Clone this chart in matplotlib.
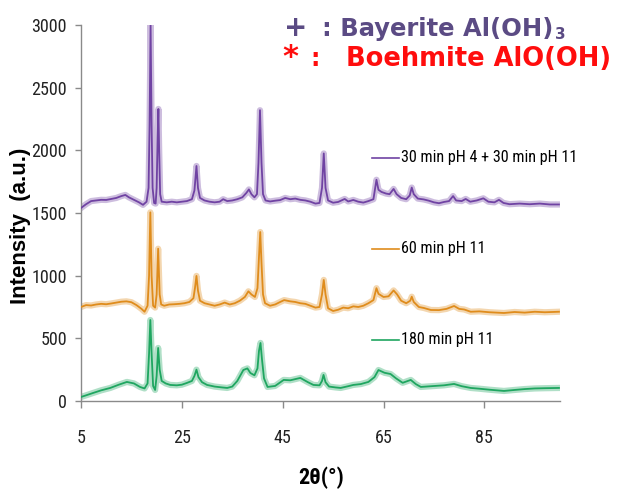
import os
import matplotlib
matplotlib.use("Agg")
import matplotlib.pyplot as plt
from matplotlib import font_manager as fm

# XRD patterns: (2-theta, intensity) pairs per sample
two_theta_a = [5.0, 6.0, 7.0, 8.0, 9.0, 10.0, 11.0, 12.0, 13.0, 13.8, 14.5, 15.5, 16.5, 17.3,
               18.0, 18.4, 18.6, 18.8, 19.0, 19.2, 19.5, 19.8, 20.0, 20.2, 20.35, 20.5, 20.7,
               21.0, 22.0, 23.0, 24.0, 25.0, 26.0, 27.0, 27.5, 27.9, 28.2, 28.6, 29.5, 30.5,
               31.5, 32.5, 33.2, 34.0, 35.0, 36.0, 37.0, 37.8, 38.3, 38.8, 39.4, 39.9, 40.2,
               40.5, 40.8, 41.1, 41.6, 42.5, 43.5, 44.5, 45.5, 46.5, 47.5, 48.5, 49.5, 50.5,
               51.5, 52.3, 52.8, 53.15, 53.5, 54.0, 55.0, 56.0, 57.3, 58.0, 59.0, 60.0, 61.0,
               62.0, 63.0, 63.6, 64.0, 64.6, 65.5, 66.2, 67.0, 67.6, 68.5, 69.5, 70.2, 70.6,
               71.0, 71.8, 73.0, 74.0, 75.0, 76.0, 77.0, 78.0, 78.8, 79.4, 80.5, 81.3, 82.2,
               83.5, 84.8, 85.8, 87.0, 87.9, 88.8, 90.0, 92.0, 94.0, 96.0, 98.0, 99.8]
intensity_a = [1540, 1570, 1595, 1600, 1605, 1604, 1612, 1620, 1635, 1644, 1625, 1605, 1585, 1565,
               1590, 1700, 2200, 3000, 2200, 1700, 1580, 1575, 1700, 2100, 2330, 2000, 1650,
               1590, 1585, 1590, 1585, 1590, 1595, 1610, 1680, 1875, 1700, 1620, 1600, 1590,
               1585, 1590, 1610, 1595, 1600, 1610, 1625, 1660, 1688, 1650, 1625, 1650, 1900,
               2320, 1900, 1650, 1600, 1592, 1598, 1603, 1620, 1610, 1615, 1605, 1600, 1590,
               1575, 1580, 1700, 1975, 1700, 1600, 1582, 1588, 1612, 1592, 1604, 1590, 1583,
               1595, 1610, 1765, 1685, 1668, 1655, 1650, 1692, 1650, 1620, 1610, 1640, 1703,
               1650, 1615, 1608, 1598, 1585, 1578, 1588, 1595, 1635, 1600, 1595, 1612, 1590,
               1600, 1617, 1590, 1585, 1605, 1580, 1570, 1575, 1570, 1575, 1568, 1568]

two_theta_b = [5.0, 6.0, 7.0, 8.0, 9.0, 10.0, 11.0, 12.0, 13.0, 14.0, 15.0, 16.0, 17.0, 17.6,
               18.2, 18.5, 18.75, 19.0, 19.3, 19.7, 20.0, 20.3, 20.6, 20.9, 21.5, 22.5, 23.5,
               24.5, 25.5, 26.5, 27.3, 27.6, 27.9, 28.2, 28.6, 29.5, 30.5, 31.5, 32.5, 33.5,
               34.5, 35.5, 36.5, 37.5, 38.2, 38.8, 39.5, 40.0, 40.3, 40.55, 40.8, 41.1, 41.5,
               42.5, 43.5, 44.5, 45.3, 46.5, 47.5, 48.5, 49.5, 50.5, 51.5, 52.3, 52.8, 53.15,
               53.5, 54.0, 55.0, 56.0, 57.0, 58.0, 59.0, 60.0, 61.0, 62.0, 63.0, 63.6, 64.0,
               65.0, 66.0, 67.0, 67.7, 68.5, 69.5, 70.3, 70.6, 71.0, 72.0, 73.0, 74.4, 76.0,
               77.5, 79.0, 80.0, 81.0, 82.3, 84.0, 86.0, 88.9, 91.0, 93.0, 95.0, 97.0, 99.8]
intensity_b = [750, 765, 762, 770, 775, 772, 778, 785, 792, 795, 788, 765, 735, 712,
               760, 1000, 1505, 1000, 760, 745, 850, 1215, 850, 770, 760, 770, 772,
               775, 780, 790, 820, 900, 998, 880, 800, 780, 770, 760, 770, 785,
               770, 780, 800, 830, 875, 850, 830, 900, 1150, 1348, 1100, 850, 780,
               760, 770, 790, 805, 795, 790, 780, 775, 760, 745, 750, 850, 966,
               850, 740, 718, 728, 745, 740, 755, 750, 760, 780, 805, 900, 855,
               830, 835, 882, 850, 800, 780, 800, 832, 790, 750, 742, 726, 725,
               735, 758, 735, 730, 712, 715, 708, 702, 710, 705, 712, 708, 712]

two_theta_c = [5.0, 6.0, 7.4, 9.0, 10.8, 12.5, 14.1, 15.5, 16.7, 17.6, 18.2, 18.5, 18.75,
               19.0, 19.3, 19.7, 20.0, 20.3, 20.6, 21.0, 21.8, 22.7, 24.0, 25.0, 26.0, 27.0,
               27.5, 27.9, 28.3, 29.0, 30.0, 31.5, 33.0, 34.0, 35.0, 36.0, 37.2, 38.0, 38.6,
               39.4, 40.0, 40.3, 40.6, 40.9, 41.3, 42.0, 43.5, 45.2, 46.5, 48.5, 50.0, 51.1,
               52.3, 52.8, 53.1, 53.5, 54.2, 55.5, 56.5, 58.0, 59.0, 60.5, 62.0, 63.2, 64.0,
               65.2, 66.4, 67.5, 68.8, 70.4, 71.4, 72.4, 74.5, 77.0, 79.0, 80.5, 82.3, 84.0,
               86.0, 88.9, 91.0, 93.0, 95.0, 97.0, 99.8]
intensity_c = [32, 45, 64, 85, 104, 130, 152, 140, 112, 100, 140, 380, 646,
               380, 120, 88, 200, 423, 250, 160, 140, 128, 125, 130, 144, 160,
               200, 250, 190, 150, 128, 115, 108, 104, 115, 160, 247, 260, 223,
               205, 260, 400, 463, 330, 180, 112, 120, 168, 165, 184, 150, 128,
               125, 160, 208, 150, 115, 108, 104, 118, 128, 135, 152, 190, 247,
               225, 215, 180, 145, 168, 135, 112, 118, 125, 136, 118, 104, 98,
               90, 80, 88, 95, 100, 102, 104]

series_labels = ["30 min pH 4 + 30 min pH 11", "60 min pH 11", "180 min pH 11"]
series_colors = ["#7043a3", "#df8c1c", "#1fa660"]
legend_y = [1940, 1215, 490]

x_ticks = [5, 25, 45, 65, 85]
y_ticks = [0, 500, 1000, 1500, 2000, 2500, 3000]


def narrow_font(size, bold=False):
    """Return a condensed sans face if one is installed, else a scaled-down regular one."""
    prefs = ["liberationsansnarrow", "arialnarrow", "robotocondensed",
             "notosans-condensed", "notosanscondensed", "dejavusanscondensed",
             "opensans-condensed", "opensanscondensed"]
    cands = []
    for f in fm.fontManager.ttflist:
        base = os.path.basename(f.fname).lower().replace("_", "")
        if "italic" in base or "oblique" in base:
            continue
        is_bold = f.weight in ("bold", 700, "heavy", 800) or "bold" in base
        if "semi" in base or "extra" in base or "light" in base or "medium" in base \
                or "black" in base or "thin" in base:
            continue
        if is_bold != bold:
            continue
        for rank, key in enumerate(prefs):
            if base.startswith(key):
                cands.append((rank, f.fname))
    if cands:
        cands.sort()
        return fm.FontProperties(fname=cands[0][1], size=size)
    return fm.FontProperties(family="Liberation Sans", size=size * 0.84,
                             weight="bold" if bold else "normal")


fig = plt.figure(figsize=(6.27, 4.94), dpi=100)
ax = fig.add_axes([0.1292, 0.1883, 0.7639, 0.7611])

for xs, ys, col in zip([two_theta_a, two_theta_b, two_theta_c],
                       [intensity_a, intensity_b, intensity_c], series_colors):
    ax.plot(xs, ys, color=col, lw=4.5, alpha=0.35, solid_joinstyle="round", zorder=2)
    ax.plot(xs, ys, color=col, lw=1.3, zorder=3)

# per-series keys placed next to each pattern
for lab, col, ly in zip(series_labels, series_colors, legend_y):
    ax.plot([62.7, 68.0], [ly, ly], color=col, lw=1.2, zorder=4)
    ax.text(68.4, ly, lab, fontproperties=narrow_font(11.6), color="black",
            va="center", ha="left", zorder=4)

ax.set_xlim(5, 100)
ax.set_ylim(0, 3000)
ax.set_xticks(x_ticks)
ax.set_yticks(y_ticks)
for sp in ["top", "right"]:
    ax.spines[sp].set_visible(False)
for sp in ["left", "bottom"]:
    ax.spines[sp].set_color("#8a8a8a")
    ax.spines[sp].set_linewidth(1.0)
ax.tick_params(axis="x", direction="out", length=5, width=1, color="#8a8a8a",
               pad=15, labelcolor="#222222")
ax.tick_params(axis="y", direction="out", length=4, width=1, color="#8a8a8a",
               pad=6, labelcolor="#222222")
for lbl in ax.get_xticklabels() + ax.get_yticklabels():
    lbl.set_fontproperties(narrow_font(13))

fig.text(21 / 627, 1 - 226 / 494, "Intensity  (a.u.)", rotation=90, fontsize=16,
         fontweight="bold", family=["Liberation Sans", "DejaVu Sans"],
         ha="center", va="center")
fig.text(321 / 627, 1 - 478 / 494, "2θ(°)", fontproperties=narrow_font(16, bold=True),
         ha="center", va="center")

purple_txt = "#5b4b84"
red_txt = "#ff0d0d"
head_font = ["DejaVu Sans"]
fig.text(296 / 627, 1 - 28 / 494, "+", fontsize=20, fontweight="bold",
         family=head_font, color=purple_txt, ha="center", va="center")
t_bay = fig.text(322 / 627, 1 - 29 / 494, ": Bayerite Al(OH)", fontsize=17.5, fontweight="bold",
                 family=head_font, color=purple_txt, ha="left", va="center")
sub3 = matplotlib.text.Annotation(
    "3", xy=(1, 0), xycoords=t_bay, xytext=(1.5, -1), textcoords="offset points",
    fontsize=11, fontweight="bold", family=head_font, color=purple_txt,
    ha="left", va="bottom")
sub3.set_figure(fig)
fig.texts.append(sub3)
fig.text(290 / 627, 1 - 58 / 494, "*", fontsize=22, fontweight="bold",
         family=head_font, color=red_txt, ha="center", va="center")
fig.text(310 / 627, 1 - 59 / 494, ":", fontsize=17, fontweight="bold",
         family=head_font, color=red_txt, ha="left", va="center")
fig.text(346 / 627, 1 - 59 / 494, "Boehmite AlO(OH)", fontsize=18.5, fontweight="bold",
         family=head_font, color=red_txt, ha="left", va="center")

fig.savefig("out.png", dpi=100)
